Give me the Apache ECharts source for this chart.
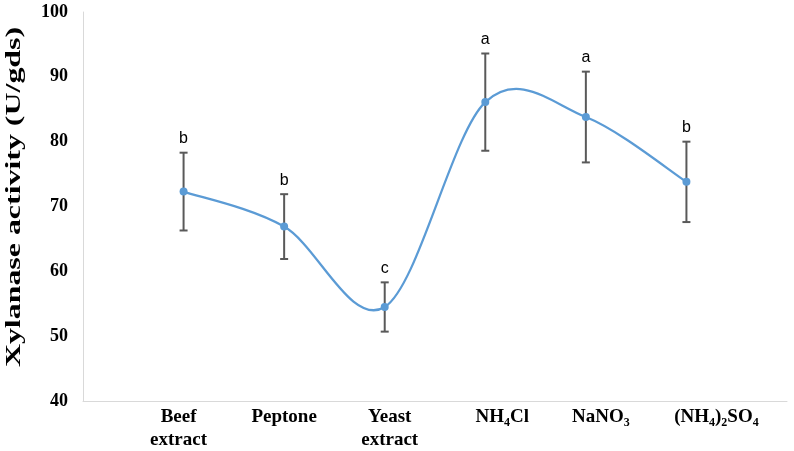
<!DOCTYPE html>
<html>
<head>
<meta charset="utf-8">
<script src="https://cdn.jsdelivr.net/npm/echarts@6/dist/echarts.min.js"></script>
<style>html,body{margin:0;padding:0;background:#fff;}#chart{width:794px;height:451px;}</style>
</head>
<body>
<div id="chart"></div>
<script>
// ---- data ----
const categories = ['Beef extract', 'Peptone', 'Yeast extract', 'NH4Cl', 'NaNO3', '(NH4)2SO4'];
const activity = [72.3, 66.9, 54.5, 86.1, 83.8, 73.8];
const errorSD = [6.0, 5.0, 3.8, 7.5, 7.0, 6.2];
const letters = ['b', 'b', 'c', 'a', 'a', 'b'];
const yTicks = [40, 50, 60, 70, 80, 90, 100];
const yTitle = 'Xylanase activity (U/gds)';

// rich label text for each category
const labelRich = {
  'Beef extract': '{b|Beef}\n{b|extract}',
  'Peptone': '{b|Peptone}',
  'Yeast extract': '{b|Yeast}\n{b|extract}',
  'NH4Cl': '{b|NH}{s|4}{b|Cl}',
  'NaNO3': '{b|NaNO}{s|3}',
  '(NH4)2SO4': '{b|(NH}{s|4}{b|)}{s|2}{b|SO}{s|4}'
};
const labelShift = [-5, 0, 5, 17, 15, 30];

const axisCats = [''].concat(categories.map((c, i) => ({
  value: c,
  textStyle: { padding: labelShift[i] >= 0 ? [0, 0, 0, 2 * labelShift[i]] : [0, -2 * labelShift[i], 0, 0] }
}))).concat(['']);

const lineData = activity.map((v, i) => [i + 1, v]);
const errData = activity.map((v, i) => [i + 1, v - errorSD[i], v + errorSD[i], letters[i]]);

const serif = '"Liberation Serif", "Times New Roman", serif';
const blue = '#5B9BD5';
const chart = echarts.init(document.getElementById('chart'), null, { renderer: 'canvas' });
chart.setOption({
  animation: false,
  backgroundColor: '#ffffff',
  grid: { left: 83, right: 7, top: 12, bottom: 50, containLabel: false, outerBoundsMode: 'none' },
  graphic: [{
    type: 'text',
    x: 14, y: 197,
    rotation: Math.PI / 2,
    scaleX: 1.45,
    style: { text: yTitle, fontFamily: serif, fontWeight: 'bold', fontSize: 22, fill: '#000', textAlign: 'center', textVerticalAlign: 'middle' }
  }],
  xAxis: {
    type: 'category',
    data: axisCats,
    boundaryGap: false,
    axisLine: { show: true, lineStyle: { color: '#D9D9D9', width: 1 } },
    axisTick: { show: false },
    splitLine: { show: false },
    axisLabel: {
      interval: 0,
      margin: 5,
      formatter: v => labelRich[v] || '',
      rich: {
        b: { fontFamily: serif, fontWeight: 'bold', fontSize: 19, color: '#000', lineHeight: 23 },
        s: { fontFamily: serif, fontWeight: 'bold', fontSize: 12, color: '#000', lineHeight: 12, padding: [9, 0, 0, 0], verticalAlign: 'bottom' }
      }
    }
  },
  yAxis: {
    type: 'value',
    min: yTicks[0],
    max: yTicks[yTicks.length - 1],
    interval: 10,
    axisLine: { show: true, lineStyle: { color: '#D9D9D9', width: 1 } },
    axisTick: { show: false },
    splitLine: { show: false },
    axisLabel: { fontFamily: serif, fontWeight: 'bold', fontSize: 18, color: '#000', margin: 15 }
  },
  series: [
    {
      type: 'custom',
      z: 2,
      data: errData,
      encode: { x: 0, y: [1, 2] },
      renderItem: function (params, api) {
        const x = api.value(0);
        const lo = api.coord([x, api.value(1)]);
        const hi = api.coord([x, api.value(2)]);
        const cw = 4;
        const st = { stroke: '#595959', lineWidth: 2 };
        return {
          type: 'group',
          children: [
            { type: 'line', shape: { x1: hi[0], y1: hi[1], x2: lo[0], y2: lo[1] }, style: st },
            { type: 'line', shape: { x1: hi[0] - cw, y1: hi[1], x2: hi[0] + cw, y2: hi[1] }, style: st },
            { type: 'line', shape: { x1: lo[0] - cw, y1: lo[1], x2: lo[0] + cw, y2: lo[1] }, style: st },
            { type: 'text', style: { text: api.value(3), x: hi[0], y: hi[1] - 6, textAlign: 'center', textVerticalAlign: 'bottom',
              fontFamily: '"Liberation Sans", Arial, sans-serif', fontSize: 16, fill: '#000' } }
          ]
        };
      }
    },
    {
      // Excel-style smoothed curve (Catmull-Rom segments through the data points)
      type: 'custom',
      z: 3,
      data: lineData,
      encode: { x: 0, y: 1 },
      renderItem: function (params, api) {
        const i = params.dataIndex;
        const n = lineData.length;
        if (i >= n - 1) return null;
        const P = k => api.coord(lineData[Math.max(0, Math.min(n - 1, k))]);
        const p0 = P(i - 1), p1 = P(i), p2 = P(i + 1), p3 = P(i + 2);
        return {
          type: 'bezierCurve',
          shape: {
            x1: p1[0], y1: p1[1],
            cpx1: p1[0] + (p2[0] - p0[0]) / 6, cpy1: p1[1] + (p2[1] - p0[1]) / 6,
            cpx2: p2[0] - (p3[0] - p1[0]) / 6, cpy2: p2[1] - (p3[1] - p1[1]) / 6,
            x2: p2[0], y2: p2[1]
          },
          style: { stroke: blue, lineWidth: 2.25, fill: null }
        };
      }
    },
    {
      type: 'line',
      z: 4,
      data: lineData,
      symbol: 'circle',
      symbolSize: 8,
      itemStyle: { color: blue },
      lineStyle: { opacity: 0 }
    }
  ]
});
</script>
</body>
</html>
